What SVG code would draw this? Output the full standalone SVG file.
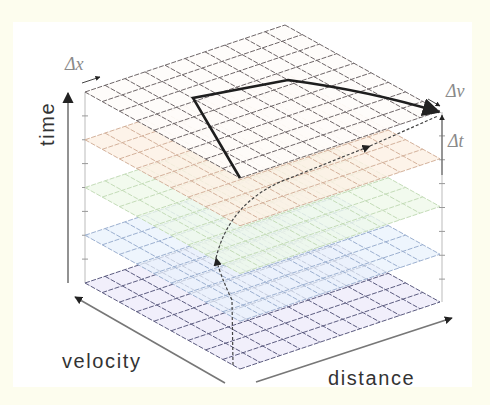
<svg xmlns="http://www.w3.org/2000/svg" xmlns:xlink="http://www.w3.org/1999/xlink" width="490" height="405" viewBox="0 0 490 405">
<style>
.lbl{font-family:"Liberation Sans",Arial,sans-serif;font-size:20px;fill:#333;letter-spacing:1.6px}
.dl{font-family:"Liberation Serif","Times New Roman",serif;font-style:italic;font-size:18px;fill:#8a8a8a}
.ax{stroke:#777;stroke-width:1.6;fill:none}
.edge{stroke:#bbb;stroke-width:1;fill:none}
.tick{stroke:#999;stroke-width:1}
.dash{stroke:#444;stroke-width:1.2;fill:none;stroke-dasharray:3 2}
.grid{fill:none;stroke-width:1;stroke-dasharray:5 1.5}
</style>
<defs>
<marker id="ah" viewBox="0 0 10 10" refX="9" refY="5" markerWidth="7" markerHeight="7" orient="auto-start-reverse"><path d="M0 0L10 5L0 10z" fill="#222"/></marker>
<marker id="ahs" viewBox="0 0 10 10" refX="9" refY="5" markerWidth="5" markerHeight="5" orient="auto-start-reverse"><path d="M0 0L10 5L0 10z" fill="#222"/></marker>
<path id="outline" d="M85 92L285 25L440 111L240 178Z"/>
<path id="gridlines" d="M85 92l155 86M105 85.3l155 86M125 78.6l155 86M145 71.9l155 86M165 65.2l155 86M185 58.5l155 86M205 51.8l155 86M225 45.1l155 86M245 38.4l155 86M265 31.7l155 86M285 25l155 86M85 92l200 -67M102.22 101.56l200 -67M119.44 111.11l200 -67M136.67 120.67l200 -67M153.89 130.22l200 -67M171.11 139.78l200 -67M188.33 149.33l200 -67M205.56 158.89l200 -67M222.78 168.44l200 -67M240 178l200 -67"/>
</defs>
<rect x="0" y="0" width="490" height="405" fill="#fdfdee"/>
<rect x="13" y="22" width="459" height="365" fill="#ffffff"/>
<g id="edges">
<line class="edge" x1="85" y1="92" x2="85" y2="283"/>
<line class="edge" x1="442" y1="112" x2="442" y2="302"/>
<path class="tick" d="M82 115.9h6M82 139.75h6M82 163.6h6M82 187.5h6M82 211.4h6M82 235.25h6M82 259.1h6M439 135.9h6M439 159.75h6M439 183.6h6M439 207.5h6M439 231.4h6M439 255.25h6M439 279.1h6"/>
</g>
<g id="plane-bottom" transform="translate(0,191)">
<use xlink:href="#outline" href="#outline" fill="#efedfb" fill-opacity="0.9"/>
<use xlink:href="#gridlines" href="#gridlines" class="grid" stroke="#5c5c80"/>
</g>
<g id="plane-blue" transform="translate(0,143.25)">
<use xlink:href="#outline" href="#outline" fill="#e8f1fc" fill-opacity="0.75"/>
<use xlink:href="#gridlines" href="#gridlines" class="grid" stroke="#9cb0d0"/>
</g>
<g id="plane-green" transform="translate(0,95.5)">
<use xlink:href="#outline" href="#outline" fill="#eef8e8" fill-opacity="0.75"/>
<use xlink:href="#gridlines" href="#gridlines" class="grid" stroke="#c4dcb8"/>
</g>
<g id="plane-peach" transform="translate(0,47.75)">
<use xlink:href="#outline" href="#outline" fill="#fdf0e4" fill-opacity="0.8"/>
<use xlink:href="#gridlines" href="#gridlines" class="grid" stroke="#d4b29c"/>
</g>
<g id="plane-top">
<use xlink:href="#outline" href="#outline" fill="#fefcfa" fill-opacity="0.92"/>
<use xlink:href="#gridlines" href="#gridlines" class="grid" stroke="#6e6668"/>
</g>
<g id="connectors">
<line class="ax" x1="68" y1="283" x2="68" y2="93" marker-end="url(#ah)"/>
<line class="ax" x1="225" y1="383" x2="75" y2="297" marker-end="url(#ahs)"/>
<line class="ax" x1="256" y1="382" x2="452" y2="318" marker-end="url(#ahs)"/>
<path d="M240 178L193 98L288 80Q370 91 439 112" fill="none" stroke="#1e1e1e" stroke-width="2.6" marker-end="url(#ah)"/>
<path class="dash" d="M233 365L232 300Q220 275 216 258" marker-end="url(#ah)"/>
<path class="dash" d="M216 258Q230 200 290 178L370 146" marker-end="url(#ah)"/>
<path class="dash" d="M370 146L438 116"/>
<line x1="442" y1="175" x2="442" y2="115" stroke="#666" stroke-width="1.2" marker-end="url(#ahs)"/>
<line x1="428" y1="99" x2="440" y2="106" stroke="#444" stroke-width="1" marker-end="url(#ahs)"/>
<line x1="82" y1="83" x2="100" y2="77" stroke="#444" stroke-width="1" marker-end="url(#ahs)"/>
</g>
<g id="labels">
<text class="lbl" transform="translate(54,146) rotate(-90)">time</text>
<text class="lbl" x="62" y="368">velocity</text>
<text class="lbl" x="328" y="385">distance</text>
<text class="dl" x="65" y="70">Δx</text>
<text class="dl" x="446" y="97">Δv</text>
<text class="dl" x="448" y="147">Δt</text>
</g>
</svg>
